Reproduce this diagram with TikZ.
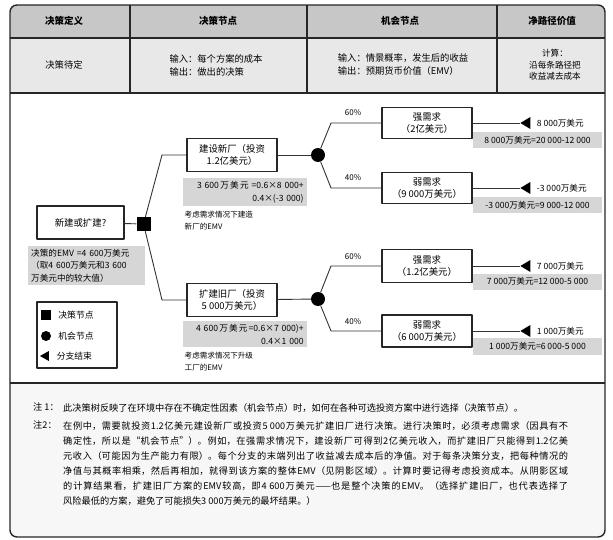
\documentclass[tikz,border=0pt]{standalone}
\usepackage{fontspec}
\setmainfont{Noto Sans CJK SC}
\usepackage{tikz}
\usetikzlibrary{shapes.geometric, positioning}
\XeTeXlinebreaklocale "zh"
\XeTeXlinebreakskip=0pt plus 2pt

\begin{document}
\begin{tikzpicture}[x=1pt, y=-1pt, line join=round,
		box/.style = {draw=black!85, line width=1.1pt, fill=white, minimum width=90pt, minimum height=33pt, align=center, inner sep=1pt, font=\fontsize{9.4}{12}\selectfont},
		shade/.style = {fill=black!16, inner sep=3pt, font=\fontsize{8.6}{12.5}\selectfont},
		note/.style = {font=\fontsize{7.6}{12}\selectfont, align=left, inner sep=0pt},
		head/.style = {font=\fontsize{9.5}{12}\selectfont\bfseries},
		cell/.style = {font=\fontsize{9.3}{13}\selectfont, align=left},
		decision/.style = {rectangle, fill=black, minimum size=14pt, inner sep=0pt},
		chance/.style = {circle, fill=black, minimum size=14pt, inner sep=0pt},
		leaf/.style = {isosceles triangle, shape border rotate=180, isosceles triangle stretches, fill=black, minimum width=12pt, minimum height=10pt, inner sep=0pt},
		pct/.style = {font=\fontsize{8}{10}\selectfont, inner sep=0pt},
		val/.style = {font=\fontsize{8.6}{10}\selectfont, inner sep=0pt},
		legtxt/.style = {font=\fontsize{8.8}{10}\selectfont, inner sep=0pt},
		notetxt/.style = {font=\fontsize{9.2}{15}\selectfont, inner sep=0pt, anchor=north west},
		link/.style = {draw=black!80, line width=0.9pt}]
		\useasboundingbox (0,0) rectangle (613,540);
		
		% frame and table
		\begin{scope}
			\clip[rounded corners=7pt] (10,5) rectangle (605,537);
			\fill[black!22] (10,5) rectangle (605,38);
			\fill[black!9] (10,38) rectangle (605,93);
			\fill[black!3] (10,383) rectangle (605,537);
		\end{scope}
		\draw[line width=1.4pt, rounded corners=7pt, black!85] (10,5) rectangle (605,537);
		\draw[line width=1.1pt, black!85] (10,38) -- (605,38) (10,93) -- (605,93) (10,383) -- (605,383)
			(130,5) -- (130,93) (307,5) -- (307,93) (497,5) -- (497,93);
		
		\node[head] (hdef) at (64,21) {决策定义};
		\node[head] (hdec) at (218,21) {决策节点};
		\node[head] (hchance) at (400,21) {机会节点};
		\node[head] (hpath) at (552,21) {净路径价值};
		\node[cell] (cdef) at (64,65) {决策待定};
		\node[cell] (cdec) at (216,65) {输入：每个方案的成本\\输出：做出的决策};
		\node[cell] (cchance) at (403,65) {输入：情景概率，发生后的收益\\输出：预期货币价值（EMV）};
		\node[cell, align=center, font=\fontsize{8.6}{11.5}\selectfont] (cpath) at (555,65) {计算：\\沿每条路径把\\收益减去成本};
		
		% decision
		\node[box, minimum width=87pt] (decide) at (80.5,222.5) {新建或扩建?};
		\node[decision] (dec) at (143.5,224) {};
		\node[shade, align=left, text width=111pt, anchor=north west] (emvd) at (28,246) {决策的EMV =4 600万美元\\（取4 600万美元和3 600\\万美元中的较大值）};
		\coordinate (bu) at (162,155);
		\coordinate (bd) at (162,300);
		\node[box] (build) at (232,155) {建设新厂（投资\\1.2亿美元）};
		\node[box] (expand) at (232,300) {扩建旧厂（投资\\5 000万美元）};
		\node[shade, align=right, text width=118pt, below=6pt of build.south west, anchor=north west, xshift=-4pt] (emvb) {3 600万美元 =0.6×8 000+\\0.4×(-3 000)};
		\node[note, below=5pt of emvb.south west, anchor=north west, xshift=2pt] (noteb) {考虑需求情况下建造\\新厂的EMV};
		\node[shade, align=right, text width=118pt, below=4pt of expand.south west, anchor=north west, xshift=-4pt] (emve) {4 600万美元=0.6×7 000)+\\0.4×1 000};
		\node[note, below=5pt of emve.south west, anchor=north west, xshift=2pt] (notee) {考虑需求情况下升级\\工厂的EMV};
		
		% chance nodes
		\node[chance] (c1) at (318,155) {};
		\node[chance] (c2) at (318,299) {};
		\coordinate (c1u) at (331,123);
		\coordinate (c1d) at (331,188);
		\coordinate (c2u) at (331,266);
		\coordinate (c2d) at (331,331);
		\node[box, minimum height=31pt] (s1) at (427,123) {强需求\\（2亿美元）};
		\node[box, minimum height=31pt] (w1) at (427,188) {弱需求\\（9 000万美元）};
		\node[box, minimum height=33pt] (s2) at (427,266) {强需求\\（1.2亿美元）};
		\node[box, minimum height=32pt] (w2) at (427,331) {弱需求\\（6 000万美元）};
		\node[pct] (p1) at (353,113) {60\%};
		\node[pct] (p2) at (353,178) {40\%};
		\node[pct] (p3) at (353,257) {60\%};
		\node[pct] (p4) at (353,322) {40\%};
		
		% branch ends
		\node[leaf] (e1) at (527,123) {};
		\node[leaf] (e2) at (527,188) {};
		\node[leaf] (e3) at (527,266) {};
		\node[leaf] (e4) at (527,331) {};
		\node[val, right=6pt of e1] (v1) {8 000万美元};
		\node[val, right=6pt of e2] (v2) {-3 000万美元};
		\node[val, right=6pt of e3] (v3) {7 000万美元};
		\node[val, right=6pt of e4] (v4) {1 000万美元};
		\node[shade, minimum width=129pt, minimum height=16pt, inner sep=1pt] (m1) at (537.5,140) {8 000万美元=20 000-12 000};
		\node[shade, minimum width=129pt, minimum height=16pt, inner sep=1pt] (m2) at (537.5,205.5) {-3 000万美元=9 000-12 000};
		\node[shade, minimum width=129pt, minimum height=16pt, inner sep=1pt] (m3) at (537.5,281.5) {7 000万美元=12 000-5 000};
		\node[shade, minimum width=129pt, minimum height=17pt, inner sep=1pt] (m4) at (537.5,346) {1 000万美元=6 000-5 000};
		
		\path[link]
		(decide) edge (dec)
		(build)  edge (c1)
		(expand) edge (c2)
		(s1)     edge (e1)
		(w1)     edge (e2)
		(s2)     edge (e3)
		(w2)     edge (e4)
		;
		\draw[link] (dec) -- (bu) -- (build);
		\draw[link] (dec) -- (bd) -- (expand);
		\draw[link] (c1) -- (c1u) -- (s1);
		\draw[link] (c1) -- (c1d) -- (w1);
		\draw[link] (c2) -- (c2u) -- (s2);
		\draw[link] (c2) -- (c2d) -- (w2);
		
		% legend
		\node[draw=black!85, line width=1.1pt, minimum width=80pt, minimum height=66pt] (legend) at (77,335) {};
		\node[decision, minimum size=10pt] (ld) at (46,315) {};
		\node[chance, minimum size=10pt] (lc) at (46,336) {};
		\node[leaf, minimum width=10pt, minimum height=9pt] (ll) at (46,356) {};
		\node[legtxt, right=7pt of ld] (ldt) {决策节点};
		\node[legtxt, right=7pt of lc] (lct) {机会节点};
		\node[legtxt, right=7.5pt of ll] (llt) {分支结束};
		
		% notes
		\node[notetxt] (n1l) at (33,403) {注 1：};
		\node[notetxt] (n1) at (63,403) {此决策树反映了在环境中存在不确定性因素（机会节点）时，如何在各种可选投资方案中进行选择（决策节点）。};
		\node[notetxt] (n2l) at (33,421) {注2：};
		\node[notetxt, text width=505pt, align=justify] (n2) at (63,421) {\noindent 在例中，需要就投资1.2亿美元建设新厂或投资5 000万美元扩建旧厂进行决策。进行决策时，必须考虑需求（因具有不\linebreak
		确定性，所以是“机会节点”）。例如，在强需求情况下，建设新厂可得到2亿美元收入，而扩建旧厂只能得到1.2亿美\linebreak
		元收入（可能因为生产能力有限）。每个分支的末端列出了收益减去成本后的净值。对于每条决策分支，把每种情况的\linebreak
		净值与其概率相乘，然后再相加，就得到该方案的整体EMV（见阴影区域）。计算时要记得考虑投资成本。从阴影区域\linebreak
		的计算结果看，扩建旧厂方案的EMV较高，即4 600万美元——也是整个决策的EMV。（选择扩建旧厂，也代表选择了\linebreak
		风险最低的方案，避免了可能损失3 000万美元的最坏结果。）};
\end{tikzpicture}
\end{document}
